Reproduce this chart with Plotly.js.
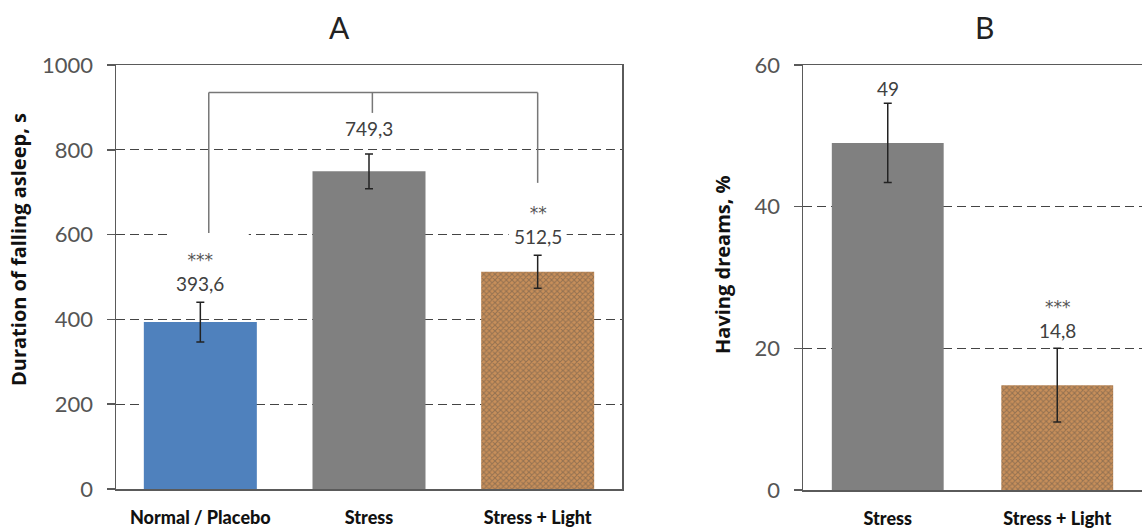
<!DOCTYPE html>
<html>
<head>
<meta charset="utf-8">
<script src="https://cdn.plot.ly/plotly-3.0.1.min.js"></script>
<style>html,body{margin:0;padding:0;background:#fff;}#chart{width:1142px;height:532px;}</style>
</head>
<body>
<div id="chart"></div>
<script>
// Panel A data
const catsA = ["Normal / Placebo", "Stress", "Stress + Light"];
const valsA = [393.6, 749.3, 512.5];
const errA = [47, 41, 39];
const labelsA = ["393,6", "749,3", "512,5"];
const sigA = ["***", "", "**"];
const ticksA = [0, 200, 400, 600, 800, 1000];

// Panel B data
const catsB = ["Stress", "Stress + Light"];
const valsB = [49, 14.8];
const errB = [5.6, 5.2];
const labelsB = ["49", "14,8"];
const sigB = ["", "***"];
const ticksB = [0, 20, 40, 60];

// Comparison bracket (panel A), values in axis units
const bracketTop = 935;
const bracketLegEnds = [604, 887, 722];

const BLUE = "#4f81bd", GRAY = "#808080", CORK = "#c88f5a";
const FONT = "Lato, 'Open Sans', sans-serif";
const TFONT = "'Open Sans', Lato, sans-serif";
const AXC = "#5a5a5a";

const corkPattern = shapes => ({shape: shapes, fgcolor: "#8c5a2e", fgopacity: 0.4, size: 4, solidity: 0.45, fillmode: "overlay"});

const traces = [
  {
    type: "bar", x: catsA, y: valsA, xaxis: "x", yaxis: "y", width: 0.67,
    marker: {color: [BLUE, GRAY, CORK], line: {width: 0}, pattern: corkPattern(["", "", "x"])},
    error_y: {type: "data", array: errA, visible: true, color: "#222", thickness: 1.5, width: 4},
    hoverinfo: "x+y", showlegend: false
  },
  {
    type: "bar", x: catsB, y: valsB, xaxis: "x2", yaxis: "y2", width: 0.66,
    marker: {color: [GRAY, CORK], line: {width: 0}, pattern: corkPattern(["", "x"])},
    error_y: {type: "data", array: errB, visible: true, color: "#222", thickness: 1.5, width: 4},
    hoverinfo: "x+y", showlegend: false
  }
];

const W = 1142, H = 532;
const px = v => v / W, py = v => (H - v) / H;

const axY = {
  showline: true, linecolor: AXC, linewidth: 1.5, mirror: true,
  ticks: "outside", ticklen: 8, tickcolor: AXC, tickwidth: 1.5,
  showgrid: true, gridcolor: "#444", griddash: "9px,5px", gridwidth: 1.2,
  zeroline: false, automargin: false,
  tickfont: {family: FONT, size: 22, color: "#555"},
  ticklabelstandoff: 9
};
const axX = {
  type: "category", showline: true, linecolor: AXC, linewidth: 1.5, mirror: true,
  ticks: "", showgrid: false, zeroline: false, automargin: false,
  tickfont: {family: FONT, size: 18, color: "#111", weight: 900},
  ticklabelstandoff: 12
};

const sigSpan = s => "<span style='font-family:DejaVu Sans;font-size:17px;color:#555'>" + s + "</span><br>";

const annotations = [];
const shapes = [];
catsA.forEach((c, i) => {
  const txt = (sigA[i] ? sigSpan(sigA[i]) : "") + labelsA[i];
  if (sigA[i]) {
    // white label box hiding the dashed grid line behind the label
    const half = i === 0 ? 40 : 29;
    shapes.push({
      type: "rect", layer: "above", xref: "x", yref: "y",
      xsizemode: "pixel", xanchor: i + (i === 0 ? 0.05 : 0), x0: -half, x1: half,
      ysizemode: "pixel", yanchor: valsA[i] + errA[i], y0: 9, y1: i === 0 ? 70 : 58,
      fillcolor: "#fff", line: {width: 0}
    });
  }
  annotations.push({
    xref: "x", yref: "y", x: c, y: valsA[i] + errA[i], yanchor: "bottom",
    text: txt, showarrow: false, yshift: i === 1 ? 12 : 5,
    font: {family: FONT, size: 19, color: "#404040"}
  });
});
catsB.forEach((c, i) => {
  const txt = (sigB[i] ? sigSpan(sigB[i]) : "") + labelsB[i];
  annotations.push({
    xref: "x2", yref: "y2", x: c, y: valsB[i] + errB[i], yanchor: "bottom",
    text: txt, showarrow: false, yshift: i === 0 ? 1 : 4,
    font: {family: FONT, size: 19, color: "#404040"}
  });
});
// Titles
annotations.push({xref: "paper", yref: "paper", x: px(327), y: py(27), yanchor: "middle", text: "A", showarrow: false,
  font: {family: FONT, size: 30, color: "#222"}});
annotations.push({xref: "paper", yref: "paper", x: px(996), y: py(27), yanchor: "middle", text: "B", showarrow: false,
  font: {family: FONT, size: 30, color: "#222"}});
// Y axis titles
annotations.push({xref: "paper", yref: "paper", x: px(18), y: py(250), xanchor: "center", yanchor: "middle", textangle: -90,
  text: "<b>Duration of falling asleep, s</b>", showarrow: false,
  font: {family: TFONT, size: 20, color: "#111"}});
annotations.push({xref: "paper", yref: "paper", x: px(722), y: py(265), xanchor: "center", yanchor: "middle", textangle: -90,
  text: "<b>Having dreams, %</b>", showarrow: false,
  font: {family: TFONT, size: 20, color: "#111"}});

// Bracket shapes
const bl = {color: "#777", width: 1.5};
shapes.push(
  {type: "line", xref: "x", yref: "y", x0: 0.05, x1: 2.0, y0: bracketTop, y1: bracketTop, line: bl},
  {type: "line", xref: "x", yref: "y", x0: 0.05, x1: 0.05, y0: bracketTop, y1: bracketLegEnds[0], line: bl},
  {type: "line", xref: "x", yref: "y", x0: 1.02, x1: 1.02, y0: bracketTop, y1: bracketLegEnds[1], line: bl},
  {type: "line", xref: "x", yref: "y", x0: 2.0, x1: 2.0, y0: bracketTop, y1: bracketLegEnds[2], line: bl}
);

const layout = {
  width: W, height: H,
  margin: {l: 0, r: 0, t: 0, b: 0},
  paper_bgcolor: "#fff", plot_bgcolor: "#fff",
  showlegend: false,
  xaxis: Object.assign({}, axX, {domain: [px(116), px(622)], anchor: "y"}),
  yaxis: Object.assign({}, axY, {domain: [py(489), py(65)], range: [0, 1000], tickvals: ticksA, anchor: "x"}),
  xaxis2: Object.assign({}, axX, {domain: [px(803), 1], anchor: "y2"}),
  yaxis2: Object.assign({}, axY, {domain: [py(490), py(65)], range: [0, 60], tickvals: ticksB, anchor: "x2"}),
  annotations: annotations,
  shapes: shapes
};

Plotly.newPlot("chart", traces, layout, {displayModeBar: false, staticPlot: true});
</script>
</body>
</html>
